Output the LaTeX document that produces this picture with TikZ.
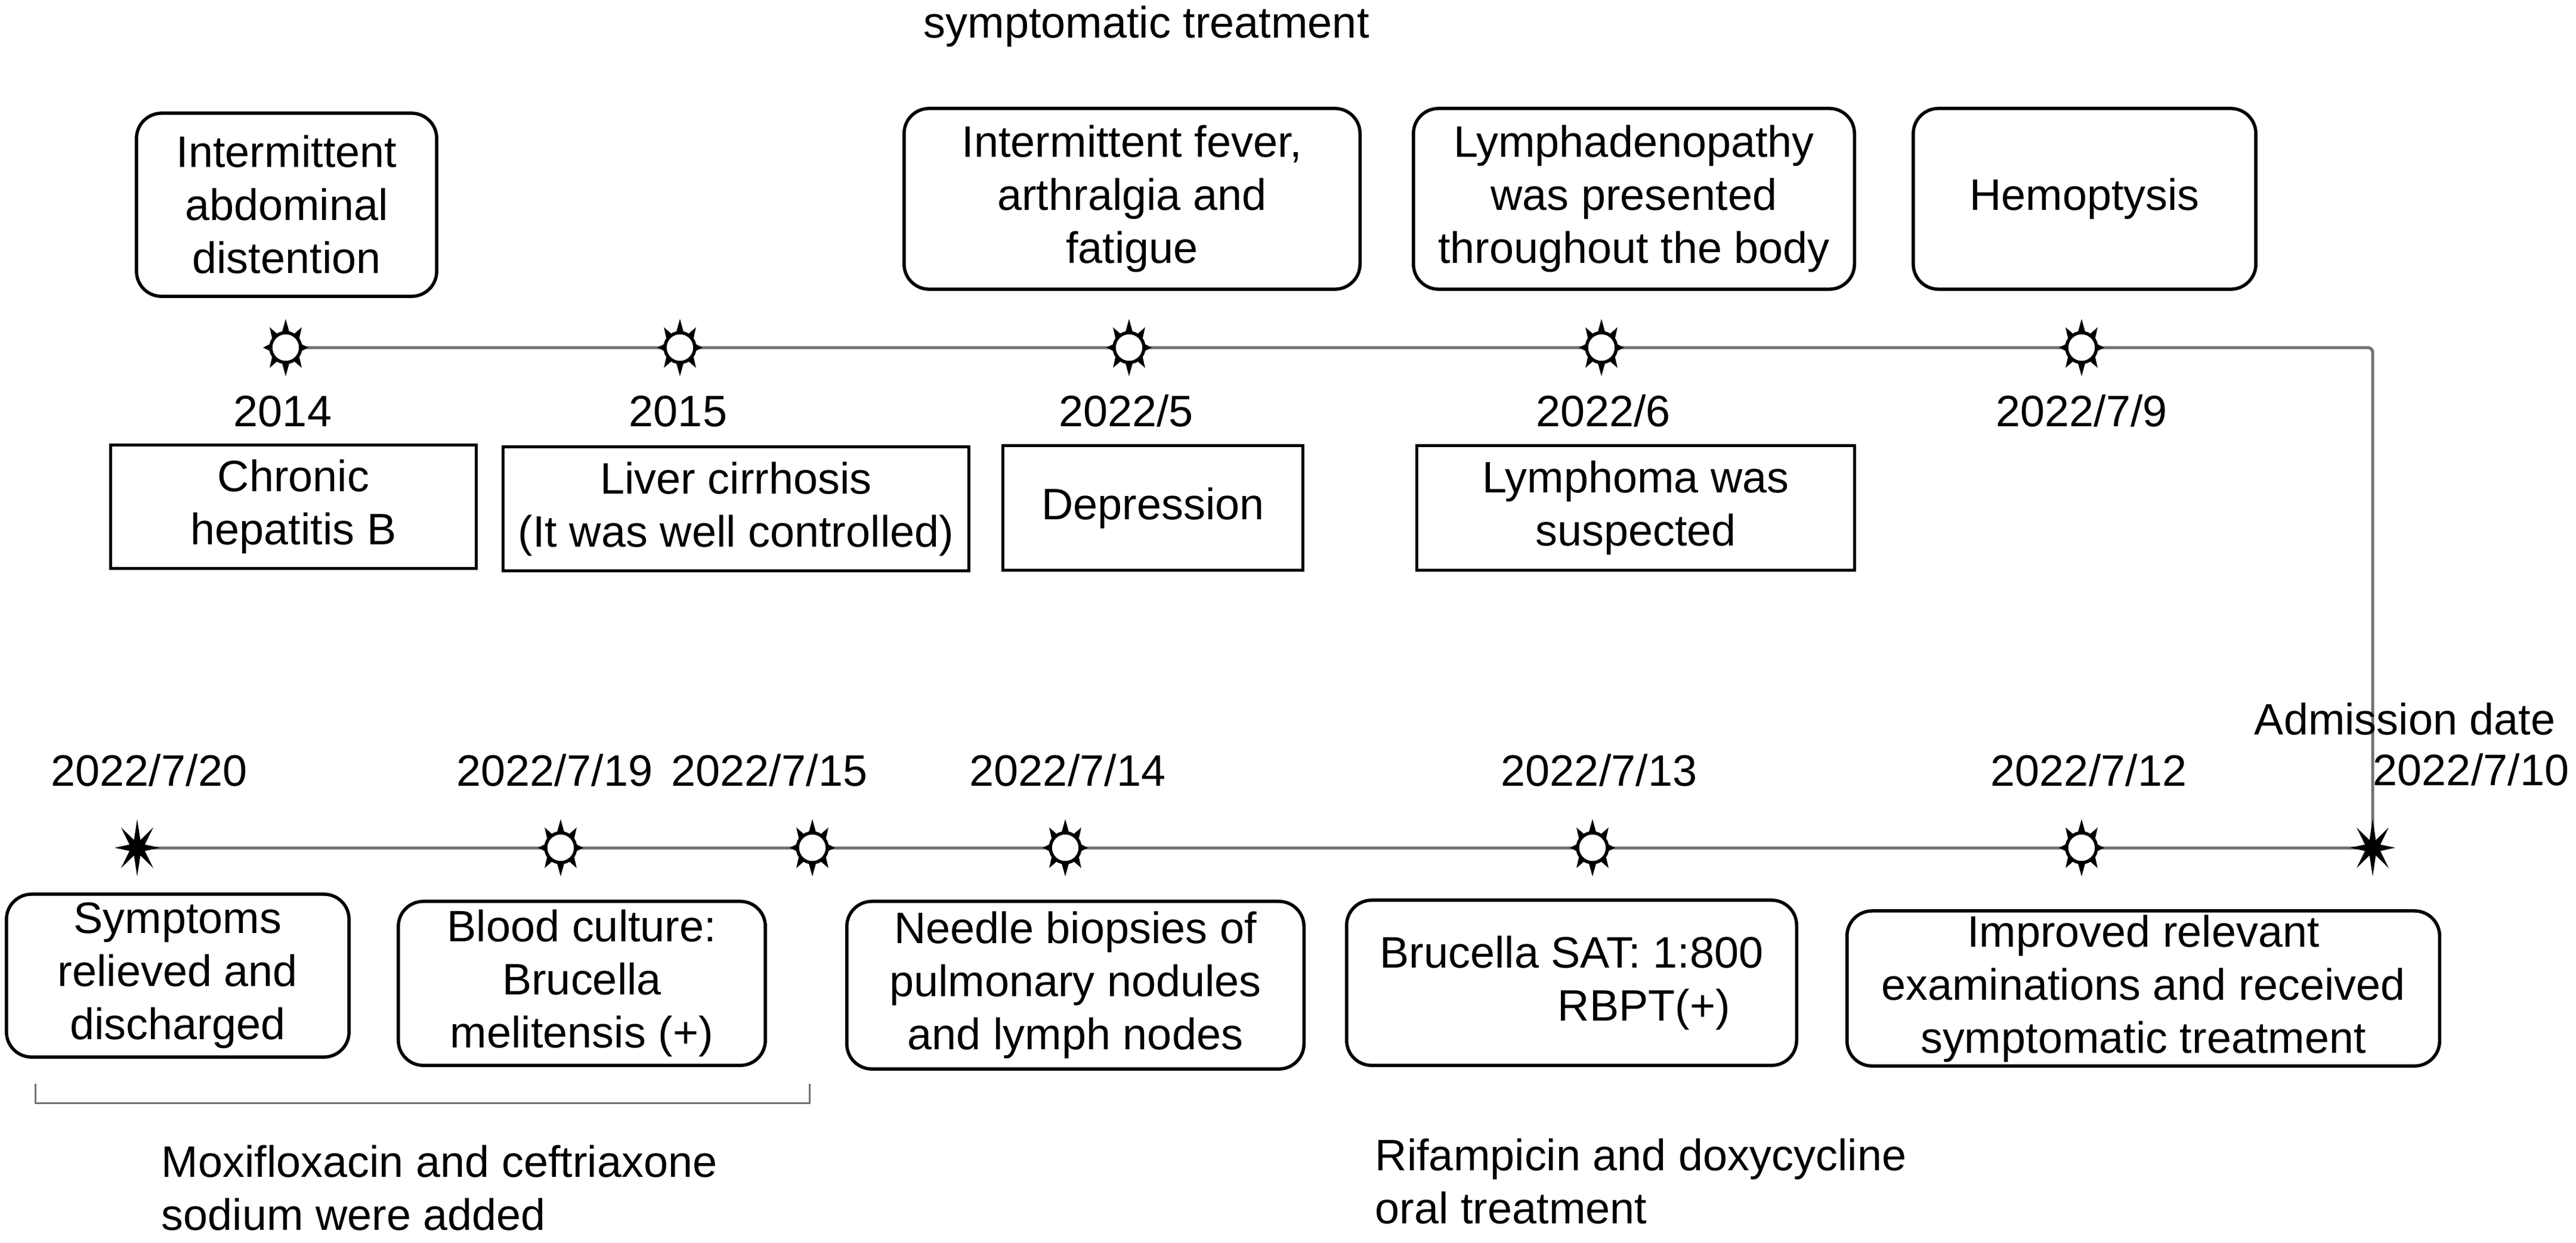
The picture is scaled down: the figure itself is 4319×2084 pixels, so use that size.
\documentclass[tikz,border=0pt]{standalone}
\usepackage{fontspec}
\setmainfont{Liberation Sans}
\begin{document}
\begin{tikzpicture}[x=0.01cm, y=-0.01cm, font=\fontsize{21pt}{25.3pt}\selectfont,
  rbox/.style={draw, line width=0.055cm, rounded corners=0.42cm, align=center, inner sep=0pt},
  sbox/.style={draw, line width=0.05cm, align=center, inner sep=0pt},
  datelbl/.style={anchor=base, inner sep=0pt},
  plain/.style={inner sep=0pt},
  tl/.style={draw=black!55, line width=0.05cm},
  brk/.style={draw=black!55, line width=0.03cm},
  sunpic/.pic={
    \foreach \a in {0,45,...,315}{
      \fill[black] ({0.26cm*cos(\a-14)},{0.26cm*sin(\a-14)}) -- ({0.38cm*cos(\a)},{0.48cm*sin(\a)}) -- ({0.26cm*cos(\a+14)},{0.26cm*sin(\a+14)}) -- cycle;
    }
    \draw[black, line width=0.055cm, fill=white] (0,0) circle[radius=0.25cm];
  },
  starpic/.pic={
    \fill[black] (0.38cm,0)
      \foreach \a in {0,45,...,315}{ -- ({0.14cm*cos(\a+22.5)},{0.14cm*sin(\a+22.5)}) -- ({0.38cm*cos(\a+45)},{0.48cm*sin(\a+45)}) } -- cycle;
  }]
\fill[white] (0,0) rectangle (4319,2084);
\useasboundingbox (0,0) rectangle (4319,2084);

% timeline coordinates
\coordinate (t1) at (479,583);
\coordinate (t2) at (1140,583);
\coordinate (t3) at (1893,583);
\coordinate (t4) at (2685,583);
\coordinate (t5) at (3490,583);
\coordinate (tc) at (3978,583);
\coordinate (b1) at (230,1422);
\coordinate (b2) at (940,1422);
\coordinate (b3) at (1362,1422);
\coordinate (b4) at (1786,1422);
\coordinate (b5) at (2670,1422);
\coordinate (b6) at (3490,1422);
\coordinate (b7) at (3978,1422);

\draw[tl, rounded corners=0.08cm] (t1) -- (tc) -- (b7);
\draw[tl] (b1) -- (b7);

\foreach \p in {t1,t2,t3,t4,t5,b2,b3,b4,b5,b6} { \pic at (\p) {sunpic}; }
\pic at (b1) {starpic};
\pic at (b7) {starpic};

% top text
\node[plain, anchor=base west] (toptxt) at (1548,63) {symptomatic treatment};

% top rounded boxes
\node[rbox, minimum width=5.03cm, minimum height=3.07cm] (a1) at (480.5,343.5) {Intermittent\\abdominal\\distention};
\node[rbox, minimum width=7.64cm, minimum height=3.03cm] (a3) at (1898,333.5) {Intermittent fever,\\arthralgia and\\fatigue};
\node[rbox, minimum width=7.39cm, minimum height=3.03cm] (a4) at (2739.5,333.5) {Lymphadenopathy\\was presented\\throughout the body};
\node[rbox, minimum width=5.74cm, minimum height=3.03cm] (a5) at (3495,333.5) {Hemoptysis};

% top dates
\node[datelbl] (l2014) at (474,715) {2014};
\node[datelbl] (l2015) at (1137,715) {2015};
\node[datelbl] (l20225) at (1888,715) {2022/5};
\node[datelbl] (l20226) at (2688,715) {2022/6};
\node[datelbl] (l202279) at (3490,715) {2022/7/9};

% top square boxes
\node[sbox, minimum width=6.12cm, minimum height=2.06cm] (sb1) at (492,850) {Chronic\\hepatitis B};
\node[sbox, minimum width=7.80cm, minimum height=2.07cm] (sb2) at (1234,853.5) {Liver cirrhosis\\(It was well controlled)};
\node[sbox, minimum width=5.02cm, minimum height=2.08cm] (sb3) at (1933,852) {Depression};
\node[sbox, minimum width=7.33cm, minimum height=2.08cm] (sb4) at (2742.5,852) {Lymphoma was\\suspected};

% bottom dates
\node[plain, anchor=base west] (adm) at (3779,1232) {Admission date};
\node[plain, anchor=base west] (d710) at (3978,1317) {2022/7/10};
\node[datelbl] (d720) at (250,1318) {2022/7/20};
\node[datelbl] (d719) at (930,1318) {2022/7/19};
\node[datelbl] (d715) at (1290,1318) {2022/7/15};
\node[datelbl] (d714) at (1790,1318) {2022/7/14};
\node[datelbl] (d713) at (2681,1318) {2022/7/13};
\node[datelbl] (d712) at (3502,1318) {2022/7/12};

% bottom rounded boxes
\node[rbox, minimum width=5.74cm, minimum height=2.73cm] (c1) at (298,1636.5) {Symptoms\\relieved and\\discharged};
\node[rbox, minimum width=6.15cm, minimum height=2.75cm] (c2) at (975.5,1649.5) {Blood culture:\\Brucella\\melitensis (+)};
\node[rbox, minimum width=7.66cm, minimum height=2.81cm] (c3) at (1803,1652.5) {Needle biopsies of\\pulmonary nodules\\and lymph nodes};
\node[rbox, minimum width=7.54cm, minimum height=2.77cm, align=left] (c4) at (2635,1648.5) {Brucella SAT: 1:800\\\hspace*{4.04em}RBPT(+)};
\node[rbox, minimum width=9.93cm, minimum height=2.60cm] (c5) at (3593.5,1658) {Improved relevant\\examinations and received\\symptomatic treatment};

% bracket
\coordinate (br1) at (59,1818);
\coordinate (brm) at (1357,1850);
\coordinate (br2) at (1357,1818);
\draw[brk] (br1) |- (brm) -- (br2);

% bottom texts
\node[plain, anchor=west, align=left] (moxi) at (270,1993) {Moxifloxacin and ceftriaxone\\sodium were added};
\node[plain, anchor=west, align=left] (rifa) at (2305,1982) {Rifampicin and doxycycline\\oral treatment};
\end{tikzpicture}
\end{document}
